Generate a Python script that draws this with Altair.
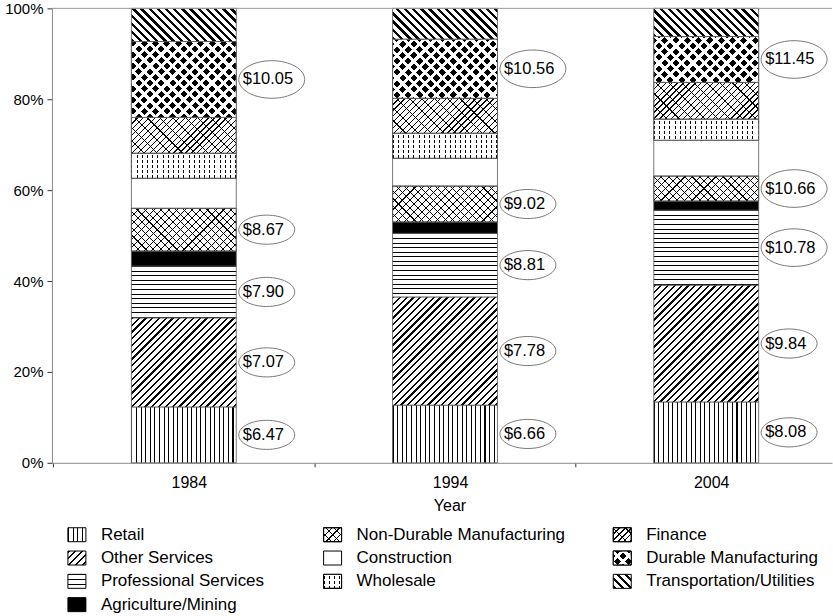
import math

import altair as alt
import pandas as pd

FONT = "Liberation Sans"

YEARS = ["1984", "1994", "2004"]

# Stack order, bottom to top
SECTORS = [
    "Retail",
    "Other Services",
    "Professional Services",
    "Agriculture/Mining",
    "Non-Durable Manufacturing",
    "Construction",
    "Wholesale",
    "Finance",
    "Durable Manufacturing",
    "Transportation/Utilities",
]

# Share of employment (%), same order as SECTORS
SHARE_1984 = [12.3, 19.6, 11.4, 3.3, 9.4, 6.6, 5.5, 7.9, 16.7, 7.3]
SHARE_1994 = [12.7, 23.8, 14.0, 2.5, 7.9, 6.1, 5.5, 7.7, 13.0, 6.8]
SHARE_2004 = [13.4, 25.7, 16.5, 2.0, 5.5, 7.9, 4.6, 8.1, 10.1, 6.2]

# Average hourly wage shown beside selected sectors (None = not labelled)
WAGE_1984 = [6.47, 7.07, 7.90, None, 8.67, None, None, None, 10.05, None]
WAGE_1994 = [6.66, 7.78, 8.81, None, 9.02, None, None, None, 10.56, None]
WAGE_2004 = [8.08, 9.84, 10.78, None, 10.66, None, None, None, 11.45, None]

SHARES = [SHARE_1984, SHARE_1994, SHARE_2004]
WAGES = [WAGE_1984, WAGE_1994, WAGE_2004]

# ---- layout -------------------------------------------------------------
PLOT_W, PLOT_H = 781, 455
PAD_IN, PAD_OUT = 0.5985, 0.2925
STEP = PLOT_W / (len(YEARS) - PAD_IN + 2 * PAD_OUT)
BAR_W = STEP * (1 - PAD_IN)
LEG_W, LEG_H = 18, 14
CLEAR = "rgba(255,255,255,0)"

# Hatch styles: (direction, line px, period px, line colour, background)
# 'v' vertical, 'h' horizontal, 'd1' = "/", 'd2' = "\"
PATTERNS = {
    "Retail": [("v", 1.1, 4.6, "#000", "#fff")],
    "Other Services": [("d1", 1.6, 4.8, "#000", "#fff")],
    "Professional Services": [("h", 1.0, 4.6, "#000", "#fff")],
    "Agriculture/Mining": "#000",
    "Non-Durable Manufacturing": [("d2", 0.8, 5.5, "#000", "#fff"),
                                  ("d1", 0.8, 5.5, "#000", CLEAR)],
    "Construction": "#fff",
    "Wholesale": [("v", 1.0, 5.2, "#000", "#fff"),
                  ("h", 2.0, 5.0, "#fff", CLEAR)],
    "Finance": [("d1", 0.9, 4.2, "#000", "#fff"),
                ("d2", 0.8, 9.0, "#000", CLEAR)],
    "Durable Manufacturing": [("d1", 5.0, 8.0, "#000", "#fff"),
                              ("d2", 3.0, 8.0, "#fff", CLEAR)],
    "Transportation/Utilities": [("d2", 2.4, 5.8, "#000", "#fff")],
}
OVERLAY_SECTORS = [s for s in SECTORS
                   if not isinstance(PATTERNS[s], str) and len(PATTERNS[s]) > 1]


def stripes(kind, lw, period, fg, bg, w, h):
    """Hard-stop linear gradient that draws parallel lines in a w x h box."""
    if kind == "v":
        x1, y1, x2, y2, length = 0, 0, 1, 0, w
    elif kind == "h":
        x1, y1, x2, y2, length = 0, 0, 0, 1, h
    else:
        k = (w + h) / (w * w + h * h)
        length = (w + h) / math.sqrt(2)
        if kind == "d1":
            x1, y1, x2, y2 = 0, 0, k * w, k * h
        else:
            x1, y1, x2, y2 = 0, 1, k * w, 1 - k * h
    stops = []
    n = int(math.ceil(length / period))
    for i in range(n):
        a = min(i * period / length, 1)
        b = min((i * period + lw) / length, 1)
        c = min((i + 1) * period / length, 1)
        stops += [
            {"offset": round(a, 5), "color": fg},
            {"offset": round(b, 5), "color": fg},
            {"offset": round(b, 5), "color": bg},
            {"offset": round(c, 5), "color": bg},
        ]
    return {"gradient": "linear", "x1": round(x1, 5), "y1": round(y1, 5),
            "x2": round(x2, 5), "y2": round(y2, 5), "stops": stops}


def fills(sector, w, h):
    spec = PATTERNS[sector]
    if isinstance(spec, str):
        return spec, None
    base = stripes(*spec[0], w, h)
    over = stripes(*spec[1], w, h) if len(spec) > 1 else None
    return base, over


# ---- data table ----------------------------------------------------------
rows = []
base_cond, over_cond = [], []
for year, shares, wages in zip(YEARS, SHARES, WAGES):
    for i, (sector, share, wage) in enumerate(zip(SECTORS, shares, wages)):
        rows.append({
            "year": year, "sector": sector, "order": i, "share": share,
            "wage": wage,
            "label": None if wage is None else f"${wage:.2f}",
        })
        test = f"datum.year === '{year}' && datum.sector === '{sector}'"
        b, o = fills(sector, BAR_W, share / 100 * PLOT_H)
        base_cond.append({"test": test, "value": b})
        if o is not None:
            over_cond.append({"test": test, "value": o})
df = pd.DataFrame(rows)

base = (
    alt.Chart(df)
    .transform_stack(
        stack="share", groupby=["year"], as_=["y0", "y1"], offset="normalize",
        sort=[alt.SortField("order", order="ascending")],
    )
    .transform_calculate(mid="(datum.y0 + datum.y1) / 2")
)

# ticks sit halfway between neighbouring bars; labels stay at the bar centres
x_enc = alt.X(
    "year:N", title="Year",
    scale=alt.Scale(paddingInner=PAD_IN, paddingOuter=PAD_OUT, align=0.52),
    axis=alt.Axis(
        labelAngle=0, labelFontSize=16, labelColor="#000", labelPadding=8,
        tickOffset=-STEP / 2, labelOffset=STEP / 2 + 5, tickSize=4,
        tickColor="#333", domainColor="#8a8a8a", titleFontSize=16,
        titleFontWeight="normal", titleColor="#000", titlePadding=7, titleX=398,
    ),
)
y_axis = alt.Axis(
    values=[0, 0.2, 0.4, 0.6, 0.8, 1.0], format=".0%", grid=False,
    labelFontSize=15, labelColor="#000", labelPadding=4, tickSize=5,
    tickColor="#333", domainColor="#8a8a8a",
)
y_enc = alt.Y("y0:Q", title=None, scale=alt.Scale(domain=[0, 1]), axis=y_axis)
y_mid = alt.Y("mid:Q", title=None, axis=y_axis)

# thin frame line along the 100% level
top_line = alt.Chart(pd.DataFrame({"top": [1.0]})).mark_rule(
    color="#999", strokeWidth=1
).encode(y=alt.Y("top:Q", title=None, axis=y_axis))

bars = base.mark_bar(stroke="#555", strokeWidth=0.8).encode(
    x=x_enc, y=y_enc, y2="y1:Q",
    fill=alt.value("#fff", condition=base_cond),
)

overlay = (
    base.transform_filter(alt.FieldOneOfPredicate(field="sector", oneOf=OVERLAY_SECTORS))
    .mark_bar(stroke="#555", strokeWidth=0.8)
    .encode(x=x_enc, y=y_enc, y2="y1:Q",
            fill=alt.value(CLEAR, condition=over_cond))
)

labelled = base.transform_filter("isValid(datum.label)")

ellipse_wide = (
    labelled.transform_filter("length(datum.label) > 5")
    .mark_point(shape="M-1,0A1,0.57,0,1,1,1,0A1,0.57,0,1,1,-1,0Z",
                size=4356, filled=False, color="#777", strokeWidth=1,
                opacity=1, xOffset=88)
    .encode(x=x_enc, y=y_mid)
)
ellipse_narrow = (
    labelled.transform_filter("length(datum.label) <= 5")
    .mark_point(shape="M-1,0A1,0.52,0,1,1,1,0A1,0.52,0,1,1,-1,0Z",
                size=3136, filled=False, color="#777", strokeWidth=1,
                opacity=1, xOffset=83)
    .encode(x=x_enc, y=y_mid)
)
wage_text = labelled.mark_text(
    align="left", baseline="middle", dx=59, fontSize=16.5, font=FONT, color="#000"
).encode(x=x_enc, y=y_mid, text="label:N")

main = alt.layer(bars, overlay, top_line, ellipse_wide, ellipse_narrow, wage_text).properties(
    width=PLOT_W, height=PLOT_H,
    view=alt.ViewBackground(strokeOpacity=0),
)

# ---- legend (three columns, filled column by column) -----------------------
leg_rows = []
leg_base, leg_over = [], []
for i, sector in enumerate(SECTORS):
    col = 0 if i < 4 else (1 if i < 7 else 2)
    row = i if i < 4 else (i - 4 if i < 7 else i - 7)
    leg_rows.append({"sector": sector, "col": col, "row": row})
    test = f"datum.sector === '{sector}'"
    b, o = fills(sector, LEG_W, LEG_H)
    leg_base.append({"test": test, "value": b})
    if o is not None:
        leg_over.append({"test": test, "value": o})
leg_df = pd.DataFrame(leg_rows)

# legend panel shares the plot's left edge
leg_x = alt.X("col:Q", scale=alt.Scale(domain=[0, 1, 2], range=[25, 281, 571]), axis=None)
leg_y = alt.Y("row:Q", scale=alt.Scale(domain=[0, 3], range=[8, 78]), axis=None)

leg_chart = alt.Chart(leg_df)
leg_sym = leg_chart.mark_rect(width=LEG_W, height=LEG_H, stroke="#000", strokeWidth=1).encode(
    x=leg_x, y=leg_y, fill=alt.value("#fff", condition=leg_base)
)
leg_sym_over = (
    leg_chart.transform_filter(alt.FieldOneOfPredicate(field="sector", oneOf=OVERLAY_SECTORS))
    .mark_rect(width=LEG_W, height=LEG_H, stroke="#000", strokeWidth=1)
    .encode(x=leg_x, y=leg_y, fill=alt.value(CLEAR, condition=leg_over))
)
leg_text = leg_chart.mark_text(
    align="left", baseline="middle", dx=24, fontSize=17, font=FONT, color="#000"
).encode(x=leg_x, y=leg_y, text="sector:N")

legend = alt.layer(leg_sym, leg_sym_over, leg_text).properties(
    width=PLOT_W, height=86,
    view=alt.ViewBackground(strokeOpacity=0),
)

chart = (
    alt.vconcat(main, legend, spacing=12)
    .properties(padding={"left": 4, "top": 1, "right": 0, "bottom": 0},
                background="white")
    .configure(font=FONT)
)

chart.save("out.html", embed_options={"renderer": "svg", "actions": False})
